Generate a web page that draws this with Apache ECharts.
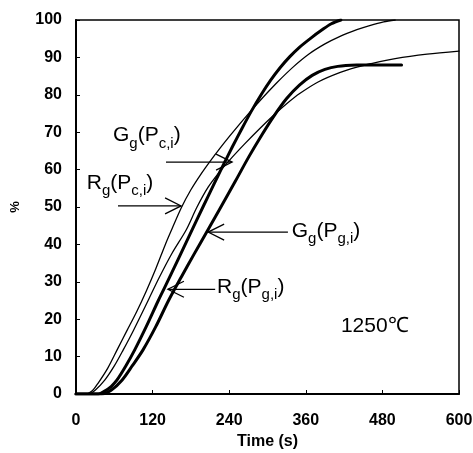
<!DOCTYPE html>
<html><head><meta charset="utf-8">
<script src="https://cdn.jsdelivr.net/npm/echarts@6/dist/echarts.min.js"></script>
<style>html,body{margin:0;padding:0;background:#fff}#c{width:473px;height:453px}</style>
</head><body><div id="c"></div>
<script>
// ---- data ----
const xTickValues = [0, 120, 240, 360, 480, 600];
const yTickValues = [0, 10, 20, 30, 40, 50, 60, 70, 80, 90, 100];

// R_g(P_c,i) thin
const timeRgPc = [0,15,25,35,50,65,80,95,110,125,140,150,165,180,195,210,226,240,255,270,285,300,315,340,365,390,412,440,460,482,500];
const valRgPc  = [0,0,0.8,3,7,12,17,22,27.5,33.5,40,44,49.8,54.6,58.6,62.2,65.8,68.8,71.9,74.9,77.8,80.6,83.3,87.4,90.9,93.6,95.5,97.4,98.5,99.5,100];
// G_g(P_c,i) thin
const timeGgPc = [0,20,30,45,60,74,90,113,130,150,173,189,207,224,241,265,288,310,330,351,380,414,440,461,500,550,600];
const valGgPc  = [0,0,1,3.7,7.5,11.8,17,25,31,37.5,44,49.8,55.3,59.2,62.6,67,71,74.6,77.6,80.4,83.5,86,87.4,88.3,89.7,90.9,91.7];
// R_g(P_g,i) thick
const timeRgPg = [0,35,45,55,64,78,92,110,129,139,160,180,200,215,230,245,260,275,290,305,320,335,350,369,385,400,415];
const valRgPg  = [0,0,0.8,2,3.7,7.5,11.8,18,25,28.5,36,43.2,50.4,55.7,61,66.1,71,75.7,80,83.9,87.3,90.2,92.7,95.3,97.3,99,100];
// G_g(P_g,i) thick
const timeGgPg = [0,40,55,72,88,105,125,145,165,185,205,225,250,270,288,310,330,350,370,390,410,440,470,510];
const valGgPg  = [0,0,1,3.7,7.5,11.8,18,25,31.3,37.4,43.4,49.4,57,63.2,68.4,74.3,79,82.6,85.2,86.8,87.6,87.95,88,88];

const zip = (t, v) => t.map((x, i) => [x, v[i]]);

const chart = echarts.init(document.getElementById('c'), null, {renderer: 'canvas'});
const FONT = 'Liberation Sans, Arial, sans-serif';

function lineSeries(name, t, v, w) {
  return {
    name, type: 'line', data: zip(t, v), showSymbol: false, smooth: 0.3,
    lineStyle: {color: '#000', width: w, cap: 'round', join: 'round'}, itemStyle: {color: '#000'}, z: 5, animation: false
  };
}

chart.setOption({
  animation: false,
  backgroundColor: '#fff',
  grid: {left: 76, right: 14, top: 20, bottom: 59, containLabel: false, outerBoundsMode: 'none',
         show: true, borderColor: '#000', borderWidth: 1.5, backgroundColor: 'transparent'},
  xAxis: {
    type: 'value', min: xTickValues[0], max: xTickValues[xTickValues.length - 1], interval: 120,
    axisLine: {show: true, onZero: false, lineStyle: {color: '#000', width: 2}},
    axisTick: {show: true, inside: true, length: 4, lineStyle: {color: '#000', width: 1}},
    splitLine: {show: false},
    axisLabel: {color: '#000', fontSize: 16, fontWeight: 'bold', fontFamily: FONT, margin: 19},
    name: 'Time (s)', nameLocation: 'middle', nameGap: 36,
    nameTextStyle: {color: '#000', fontSize: 16, fontWeight: 'bold', fontFamily: FONT}
  },
  yAxis: {
    type: 'value', min: yTickValues[0], max: yTickValues[yTickValues.length - 1], interval: 10,
    axisLine: {show: true, onZero: false, lineStyle: {color: '#000', width: 2}},
    axisTick: {show: true, inside: true, length: 4, lineStyle: {color: '#000', width: 1}},
    splitLine: {show: false},
    axisLabel: {color: '#000', fontSize: 16, fontWeight: 'bold', fontFamily: FONT, margin: 14},
    name: '%', nameLocation: 'middle', nameGap: 54, nameRotate: 90,
    nameTextStyle: {color: '#000', fontSize: 13, fontWeight: 'bold', fontFamily: FONT}
  },
  series: [
    lineSeries('Rg(Pc,i)', timeRgPc, valRgPc, 1.3),
    lineSeries('Gg(Pc,i)', timeGgPc, valGgPc, 1.3),
    lineSeries('Rg(Pg,i)', timeRgPg, valRgPg, 3),
    lineSeries('Gg(Pg,i)', timeGgPg, valGgPg, 3)
  ]
});

// ---- annotations (anchored in data coordinates) ----
const annotations = [
  {letter: 'G', sub: 'c,i', label: [58, 68.7], tip: [244.5, 62], tail: [141, 62]},
  {letter: 'R', sub: 'c,i', label: [17, 56], tip: [164.6, 50.3], tail: [65.8, 50.3]},
  {letter: 'G', sub: 'g,i', label: [338, 43.2], tip: [207, 43.3], tail: [332, 43.3]},
  {letter: 'R', sub: 'g,i', label: [221, 28.2], tip: [144, 28], tail: [218, 28]}
];
const px = p => chart.convertToPixel({gridIndex: 0}, p);
const rich = {
  m: {fontSize: 21, fontFamily: FONT, color: '#000', lineHeight: 24, verticalAlign: 'top'},
  s: {fontSize: 15, fontFamily: FONT, color: '#000', lineHeight: 16, verticalAlign: 'top', padding: [11, 0, 0, 0]}
};
const graphics = [];
annotations.forEach(a => {
  const lp = px(a.label), tp = px(a.tip), tl = px(a.tail);
  graphics.push({
    type: 'text', x: lp[0], y: lp[1], z: 10,
    style: {text: `{m|${a.letter}}{s|g}{m|(P}{s|${a.sub}}{m|)}`, rich, align: 'left', verticalAlign: 'middle'}
  });
  graphics.push({type: 'line', z: 10, shape: {x1: tl[0], y1: tl[1], x2: tp[0], y2: tp[1]}, style: {stroke: '#000', lineWidth: 1.3}});
  const dir = tl[0] > tp[0] ? 1 : -1;
  graphics.push({type: 'polyline', z: 10,
    shape: {points: [[tp[0] + dir * 16, tp[1] - 8], [tp[0], tp[1]], [tp[0] + dir * 16, tp[1] + 8]]},
    style: {stroke: '#000', lineWidth: 1.3, fill: null}});
});
const tpos = px([415, 18.2]);
graphics.push({type: 'text', x: tpos[0], y: tpos[1], z: 10,
  style: {text: '1250℃', font: '21px ' + FONT, fill: '#000', align: 'left', verticalAlign: 'middle'}});
chart.setOption({graphic: graphics});
</script>
</body></html>
